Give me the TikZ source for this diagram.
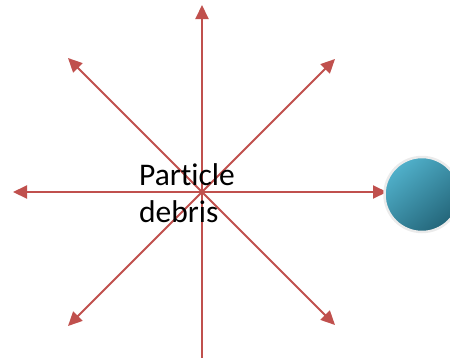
\documentclass[tikz,border=0pt]{standalone}
\usepackage{fontspec}
\setmainfont[Ligatures=NoCommon]{Carlito}
\usetikzlibrary{arrows.meta}
\definecolor{arrowred}{RGB}{192,80,77}
\definecolor{balllight}{RGB}{80,176,202}
\definecolor{balldark}{RGB}{36,102,122}
\begin{document}
\begin{tikzpicture}[x=1pt,y=-1pt,
  ray/.style={draw=arrowred, line width=2pt, -{Triangle[length=14pt,width=13pt]}},
  plainray/.style={draw=arrowred, line width=2pt}]
\useasboundingbox (0,0) rectangle (450,357);
\coordinate (c) at (202,192);
\coordinate (n) at (202,5);
\coordinate (s) at (202,360);
\coordinate (w) at (13,192);
\coordinate (e) at (387,192);
\coordinate (nw) at (68,58);
\coordinate (ne) at (335,59);
\coordinate (sw) at (68,326);
\coordinate (se) at (335,325);
\draw[ray] (c) -- (n);
\draw[plainray] (c) -- (s);
\draw[ray] (c) -- (w);
\draw[ray] (c) -- (e);
\draw[ray] (c) -- (nw);
\draw[ray] (c) -- (ne);
\draw[ray] (c) -- (sw);
\draw[ray] (c) -- (se);
\node[anchor=base west, inner sep=0pt, align=left, font=\fontsize{31.5}{37}\selectfont] (txt) at (139,222) {Particle\\debris};
\shade[shading=axis, top color=balllight, bottom color=balldark, shading angle=40] (422,194.5) circle (37);
\draw[black!8, line width=2.5pt] (422,194.5) circle (37.5) node (ball) {};
\end{tikzpicture}
\end{document}
